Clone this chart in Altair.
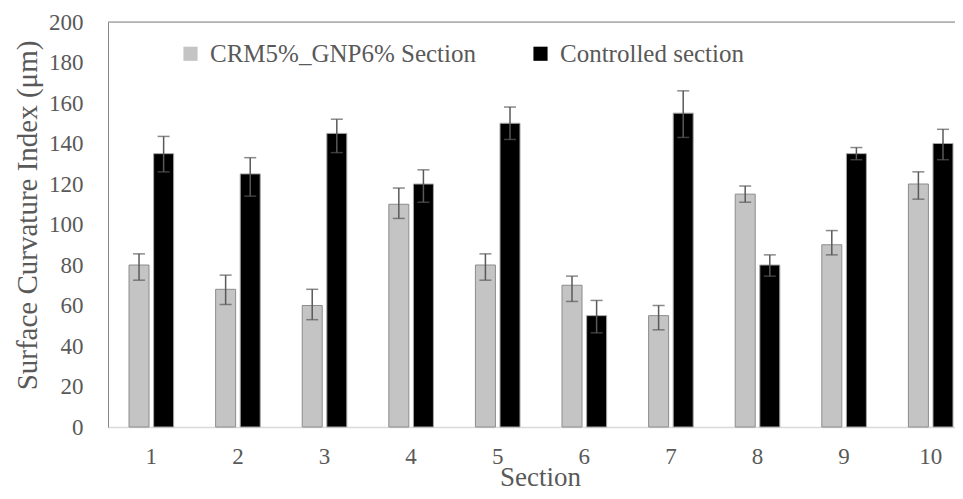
import altair as alt
import pandas as pd

sections = ["1", "2", "3", "4", "5", "6", "7", "8", "9", "10"]
series_names = ["CRM5%_GNP6% Section", "Controlled section"]

crm_vals = [80, 68, 60, 110, 80, 70, 55, 115, 90, 120]
crm_lo = [72.5, 60.5, 53, 103, 72.5, 62, 48, 111, 85, 112.5]
crm_hi = [85.5, 75, 68, 118, 85.5, 74.5, 60, 119, 97, 126]

ctrl_vals = [135, 125, 145, 120, 150, 55, 155, 80, 135, 140]
ctrl_lo = [126, 114, 135.5, 111, 142, 46.5, 143, 74.5, 132, 132]
ctrl_hi = [143.5, 133, 152, 127, 158, 62.5, 166, 85, 138, 147]

y_ticks = [0, 20, 40, 60, 80, 100, 120, 140, 160, 180, 200]

rows = []
for i, s in enumerate(sections):
    rows.append({"Section": s, "Series": series_names[0], "value": crm_vals[i],
                 "lo": crm_lo[i], "hi": crm_hi[i]})
    rows.append({"Section": s, "Series": series_names[1], "value": ctrl_vals[i],
                 "lo": ctrl_lo[i], "hi": ctrl_hi[i]})
df = pd.DataFrame(rows)

FONT = "Liberation Serif"
TXT = "#595959"
W, H = 847, 405

x_enc = alt.X(
    "Section:N",
    sort=sections,
    scale=alt.Scale(paddingInner=0.485, paddingOuter=0.133, align=0.913),
    axis=alt.Axis(
        title="Section",
        labelAngle=0,
        ticks=False,
        domainColor="#d9d9d9",
        domainWidth=1.5,
        labelFont=FONT,
        labelFontSize=23,
        labelColor=TXT,
        labelPadding=18,
        titleFont=FONT,
        titleFontSize=27,
        titleFontWeight="normal",
        titleColor=TXT,
        titleX=432,
        titleY=58,
        titleBaseline="alphabetic",
    ),
)
xo_enc = alt.XOffset("Series:N", sort=series_names,
                     scale=alt.Scale(paddingInner=0.187, paddingOuter=0))
y_enc = alt.Y(
    "value:Q",
    scale=alt.Scale(domain=[0, 200], nice=False),
    axis=alt.Axis(
        title="Surface Curvature Index (μm)",
        values=y_ticks,
        grid=False,
        ticks=False,
        domainColor="#868686",
        labelFont=FONT,
        labelFontSize=23,
        labelColor=TXT,
        labelPadding=25,
        titleFont=FONT,
        titleFontSize=29,
        titleFontWeight="normal",
        titleColor=TXT,
        titleX=-81,
        titleY=193,
        titleBaseline="middle",
        titleAngle=-90,
        titleAlign="center",
    ),
)

base = alt.Chart(df)

bars = base.mark_bar(strokeWidth=1).encode(
    x=x_enc,
    xOffset=xo_enc,
    y=y_enc,
    color=alt.Color(
        "Series:N",
        sort=series_names,
        scale=alt.Scale(domain=series_names, range=["#c4c4c4", "#000000"]),
        legend=alt.Legend(
            title=None,
            orient="none",
            direction="horizontal",
            legendX=70,
            legendY=19,
            padding=0,
            symbolType="square",
            symbolSize=200,
            symbolStrokeWidth=0,
            labelFont=FONT,
            labelFontSize=25,
            labelColor=TXT,
            labelOffset=7,
            columnPadding=52,
            labelLimit=400,
        ),
    ),
    stroke=alt.Stroke(
        "Series:N",
        sort=series_names,
        scale=alt.Scale(domain=series_names, range=["#8c8c8c", "#a6a6a6"]),
        legend=None,
    ),
)

err_rule = base.mark_rule(color="#595959", strokeWidth=1.5).encode(
    x=alt.X("Section:N", sort=sections),
    xOffset=alt.XOffset("Series:N", sort=series_names),
    y=alt.Y("lo:Q"),
    y2="hi:Q",
)
cap_lo = base.mark_tick(color="#595959", thickness=1.5, size=12).encode(
    x=alt.X("Section:N", sort=sections),
    xOffset=alt.XOffset("Series:N", sort=series_names),
    y=alt.Y("lo:Q"),
)
cap_hi = base.mark_tick(color="#595959", thickness=1.5, size=12).encode(
    x=alt.X("Section:N", sort=sections),
    xOffset=alt.XOffset("Series:N", sort=series_names),
    y=alt.Y("hi:Q"),
)

top_line = alt.Chart(pd.DataFrame({"a": [0]})).mark_rule(
    color="#868686", strokeWidth=1
).encode(x=alt.value(0), x2=alt.value(W), y=alt.value(0))

chart = alt.layer(bars, err_rule, cap_lo, cap_hi, top_line).properties(
    width=W,
    height=H,
    autosize=alt.AutoSizeParams(type="none"),
    padding={"left": 100, "top": 14, "right": 0, "bottom": 64},
).configure_view(stroke=None).configure(background="white")

chart.save("out.html", embed_options={"renderer": "svg", "actions": False})
